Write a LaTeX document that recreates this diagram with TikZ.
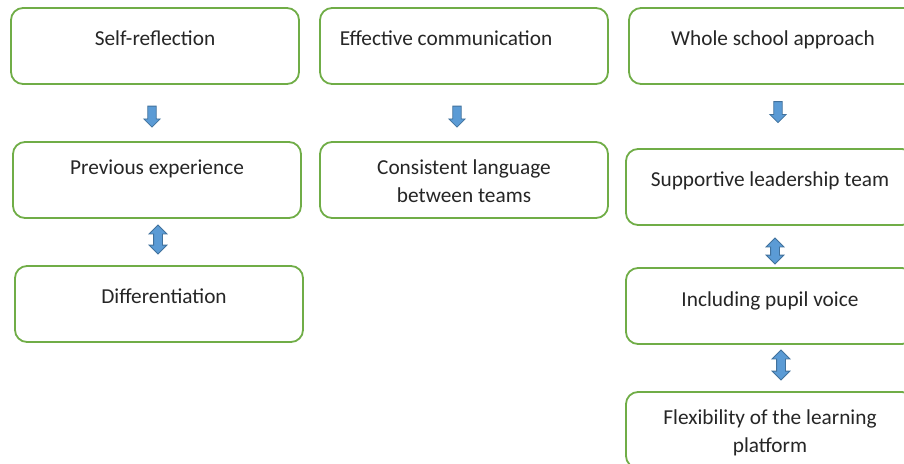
\documentclass[tikz,border=0pt]{standalone}
\usepackage{fontspec}
\setmainfont{Carlito}
\usetikzlibrary{shapes.arrows}
\definecolor{boxgreen}{HTML}{70AD47}
\definecolor{arrowblue}{HTML}{5B9BD5}
\definecolor{arrowedge}{HTML}{41719C}
\tikzset{
  box/.style={draw=boxgreen, line width=1.8pt, rounded corners=12pt, fill=white,
    minimum width=288pt, minimum height=76pt, inner sep=0pt},
  txt/.style={font=\fontsize{21.3}{28}\selectfont, align=center, text=black!85, inner sep=0pt},
  downarrow/.style={single arrow, draw=arrowedge, fill=arrowblue, line width=0.8pt,
    rotate=-90, minimum height=21pt, minimum width=16pt, inner sep=3.8pt,
    single arrow head extend=4pt, single arrow tip angle=90},
  twoarrow/.style={double arrow, draw=arrowedge, fill=arrowblue, line width=0.8pt,
    rotate=90, minimum width=17pt, inner sep=4pt,
    double arrow head extend=4.5pt, double arrow tip angle=90}
}
\begin{document}
\begin{tikzpicture}[x=1pt, y=-1pt]
  \useasboundingbox (0,0) rectangle (904,463);

  % Boxes
  \node[box] (self) at (155,46) {};
  \node[box] (comm) at (464,46) {};
  \node[box] (whole) at (773,46) {};
  \node[box] (prev) at (157,180) {};
  \node[box] (lang) at (464,180) {};
  \node[box] (lead) at (770,187) {};
  \node[box] (diff) at (159,304) {};
  \node[box] (pupil) at (770,306) {};
  \node[box] (flex) at (770,430) {};

  % Texts in the boxes
  \node[txt, anchor=base] (selft) at ([yshift=-38pt]self.north) {Self-reflection};
  \node[txt, anchor=base] (commt) at ([xshift=-18pt,yshift=-38pt]comm.north) {Effective communication};
  \node[txt, anchor=base] (wholet) at ([yshift=-38pt]whole.north) {Whole school approach};
  \node[txt, anchor=base] (prevt) at ([yshift=-33pt]prev.north) {Previous experience};
  \node[txt, anchor=north] (langt) at ([yshift=-18pt]lang.north) {Consistent language\\between teams};
  \node[txt, anchor=base] (leadt) at ([yshift=-38pt]lead.north) {Supportive leadership team};
  \node[txt, anchor=base] (difft) at ([xshift=5pt,yshift=-38pt]diff.north) {Differentiation};
  \node[txt, anchor=base] (pupilt) at ([yshift=-39pt]pupil.north) {Including pupil voice};
  \node[txt, anchor=north] (flext) at ([yshift=-18pt]flex.north) {Flexibility of the learning\\platform};

  % Block arrows
  \node[downarrow] (a1) at (152,114.5) {};
  \node[downarrow] (a2) at (457,114.5) {};
  \node[downarrow] (a3) at (778,110) {};
  \node[twoarrow, minimum height=29pt] (b1) at (158,239.5) {};
  \node[twoarrow, minimum height=26pt] (b2) at (775,251) {};
  \node[twoarrow, minimum height=30pt] (b3) at (781,365) {};
\end{tikzpicture}
\end{document}
